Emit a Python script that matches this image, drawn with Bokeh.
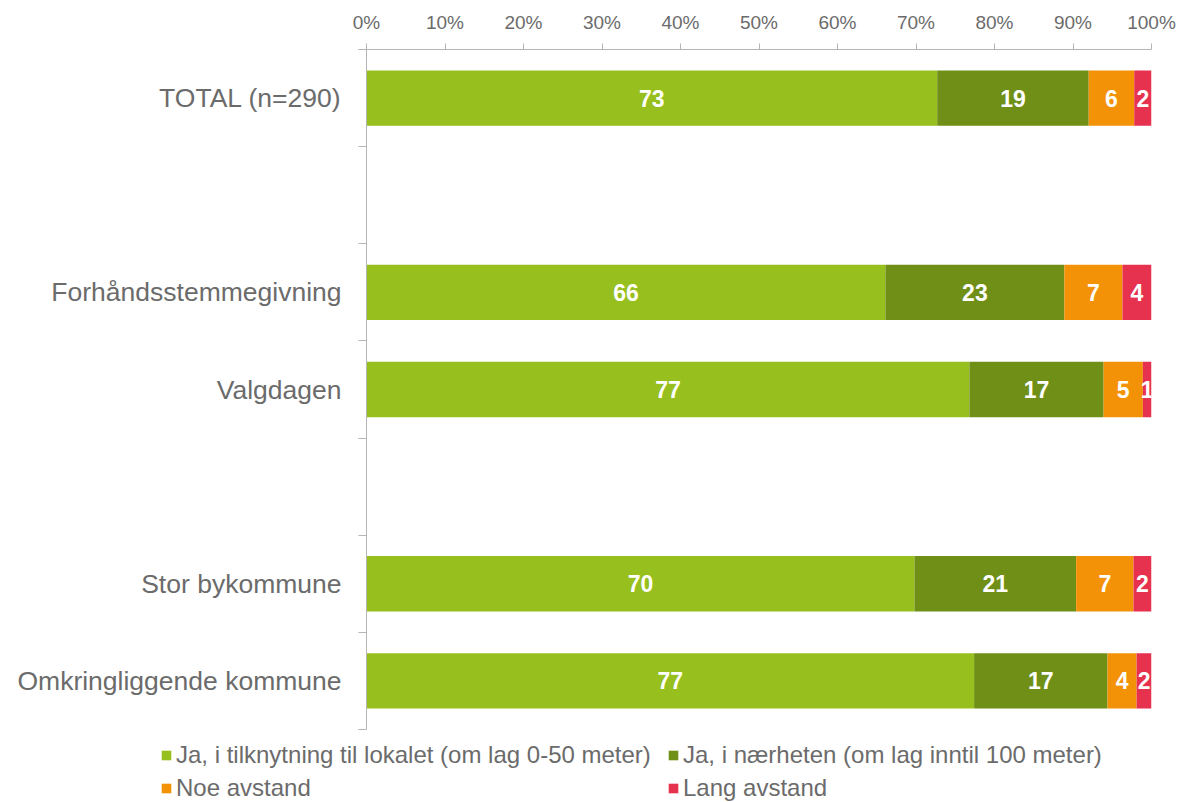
from bokeh.plotting import figure
from bokeh.layouts import column
from bokeh.models import (Range1d, FixedTicker, Legend, LegendItem, ColumnDataSource,
                          PrintfTickFormatter)
from bokeh.core.properties import value
from bokeh.embed import file_html
from bokeh.resources import INLINE

# ---- data ----
rows = ["TOTAL (n=290)", "", "Forhåndsstemmegivning", "Valgdagen", "",
        "Stor bykommune", "Omkringliggende kommune"]
groups = ["TOTAL (n=290)", "Forhåndsstemmegivning", "Valgdagen",
          "Stor bykommune", "Omkringliggende kommune"]
series = ["Ja, i tilknytning til lokalet (om lag 0-50 meter)",
          "Ja, i nærheten (om lag inntil 100 meter)",
          "Noe avstand",
          "Lang avstand"]
ja_lokalet = [72.7, 66.1, 76.8, 69.8, 77.4]
ja_naerheten = [19.3, 22.8, 17.1, 20.6, 17.0]
noe_avstand = [5.8, 7.4, 5.0, 7.3, 3.7]
lang_avstand = [2.2, 3.7, 1.1, 2.3, 1.9]
x_ticks = [0, 10, 20, 30, 40, 50, 60, 70, 80, 90, 100]

colors = ["#97BF1D", "#6F8F17", "#F39207", "#E6314F"]
FONT = "Liberation Sans"
GRAY = "#6B6B6B"
AXIS = "#B5B5B5"

values = [ja_lokalet, ja_naerheten, noe_avstand, lang_avstand]
ypos = [rows.index(g) for g in groups]

p = figure(width=1183, height=733, output_backend="svg", toolbar_location=None,
           x_range=Range1d(0, 100), y_range=Range1d(len(rows) - 0.5, -0.5),
           x_axis_location="above", min_border_left=366, min_border_right=32,
           min_border_top=49, min_border_bottom=4)
p.outline_line_color = None
p.xgrid.visible = False
p.ygrid.visible = False
p.frame_align = False

# legend strip (separate figure so the legend can span the full width)
pl = figure(width=1183, height=69, output_backend="svg", toolbar_location=None,
            x_range=Range1d(0, 100), y_range=Range1d(len(rows) - 0.5, -0.5),
            min_border=0, min_border_left=0, min_border_right=0,
            min_border_top=0, min_border_bottom=0)
pl.outline_line_color = None
pl.xaxis.visible = False
pl.yaxis.visible = False
pl.xgrid.visible = False
pl.ygrid.visible = False
pl.frame_align = False

cum = [0.0] * len(groups)
lx, ly, lt = [], [], []
leg_r = []
for vals, col in zip(values, colors):
    left = list(cum)
    right = [a + b for a, b in zip(cum, vals)]
    src = ColumnDataSource(dict(y=ypos, left=left, right=right))
    p.hbar(y="y", left="left", right="right", height=0.57, source=src,
           fill_color=col, line_color=None)
    leg_r.append(pl.hbar(y="y", left="left", right="right", height=0.57, source=src,
                         fill_color=col, line_color=None, visible=False))
    for i, v in enumerate(vals):
        lx.append((left[i] + right[i]) / 2)
        ly.append(ypos[i])
        lt.append(str(int(round(v))))
    cum = right

p.text(x="x", y="y", text="t", source=ColumnDataSource(dict(x=lx, y=ly, t=lt)),
       text_align="center", text_baseline="middle", text_color="white",
       text_font=value(FONT), text_font_style="bold", text_font_size="23px")

# top axis
xa = p.xaxis[0]
xa.ticker = FixedTicker(ticks=x_ticks)
xa.formatter = PrintfTickFormatter(format="%d%%")
xa.axis_line_color = AXIS
xa.major_tick_line_color = AXIS
xa.major_tick_out = 6
xa.major_tick_in = 0
xa.minor_tick_line_color = None
xa.major_label_text_font = FONT
xa.major_label_text_font_size = "19px"
xa.major_label_text_color = GRAY
xa.major_label_standoff = 11

# left axis
ya = p.yaxis[0]
ya.ticker = FixedTicker(ticks=list(range(len(rows))),
                        minor_ticks=[i - 0.5 for i in range(len(rows) + 1)])
ya.major_label_overrides = {i: name for i, name in enumerate(rows)}
ya.axis_line_color = AXIS
ya.major_tick_line_color = None
ya.major_tick_out = 0
ya.major_tick_in = 0
ya.minor_tick_line_color = AXIS
ya.minor_tick_out = 8
ya.minor_tick_in = 0
ya.major_label_text_font = FONT
ya.major_label_text_font_size = "26.5px"
ya.major_label_text_color = GRAY
ya.major_label_standoff = 17

# legend, filled column by column: order so that rows read s0,s1 / s2,s3
order = [0, 2, 1, 3]
legend = Legend(items=[LegendItem(label=series[k], renderers=[leg_r[k]]) for k in order],
                ncols=2, location=(160, 0))
legend.label_text_font = FONT
legend.label_text_font_size = "24px"
legend.label_text_color = GRAY
legend.glyph_width = 12
legend.glyph_height = 12
legend.label_standoff = 4
legend.label_width = 486
legend.spacing = 5
legend.padding = 0
legend.margin = 0
legend.inactive_fill_alpha = 0
legend.background_fill_alpha = 0
legend.border_line_color = None
pl.add_layout(legend)

layout = column(p, pl, spacing=0)
open("out.html", "w").write(file_html(layout, INLINE))
